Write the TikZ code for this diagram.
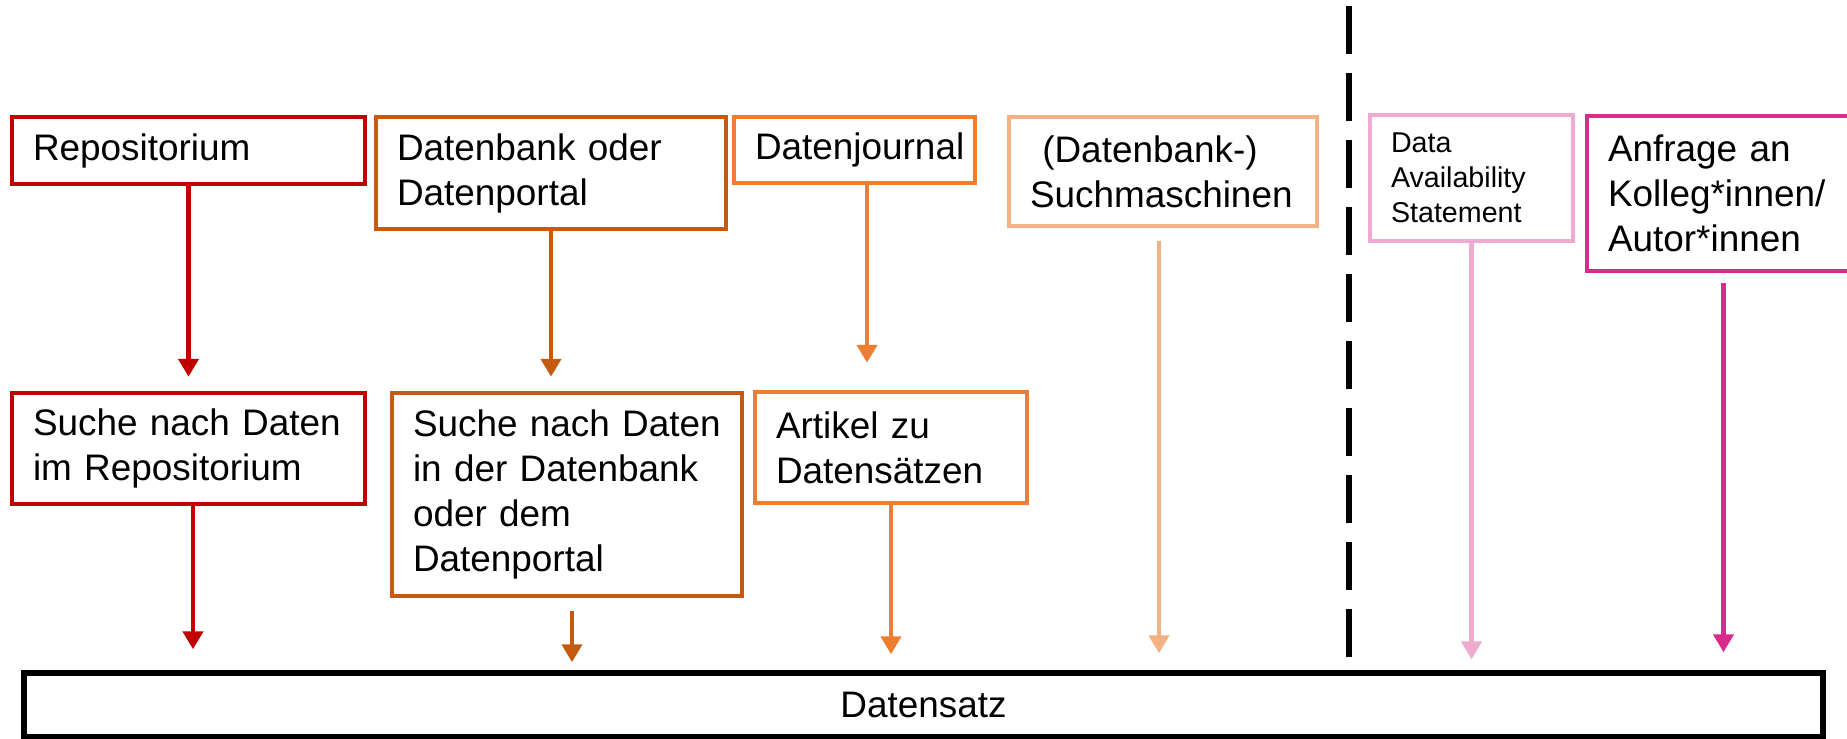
\documentclass[tikz,border=0pt]{standalone}
\usepackage{fontspec}
\setmainfont{Liberation Sans}
\usetikzlibrary{arrows.meta}

\definecolor{cRed}{HTML}{C00000}
\definecolor{cBrown}{HTML}{C55A11}
\definecolor{cOrange}{HTML}{ED7D31}
\definecolor{cPeach}{HTML}{F4B183}
\definecolor{cRose}{HTML}{F0AAD0}
\definecolor{cMagenta}{HTML}{D92B8A}

\newcommand{\bigtxt}{\fontsize{21}{25.6}\selectfont}
\newcommand{\smalltxt}{\fontsize{16.3}{19.9}\selectfont}

\tikzset{
	box/.style={draw=#1, line width=0.09cm, rectangle, align=left, inner xsep=0.42cm, inner ysep=0pt, font=\bigtxt},
	arr/.style={draw=#1, line width=0.09cm, -{Triangle[width=0.4cm,length=0.36cm]}},
}

\begin{document}
\begin{tikzpicture}
		%%%%% START %%%%%
		\useasboundingbox (0, 0) rectangle (36.94, -14.78);
		
		% upper row
		\node[box=cRed, minimum width=7.06cm, minimum height=1.34cm, text width=6.22cm] (repo) at (3.77, -3.01) {Repositorium};
		\node[box=cBrown, minimum width=7.0cm, minimum height=2.24cm, text width=6.16cm] (dbportal) at (11.02, -3.46) {Datenbank oder\\Datenportal};
		\node[box=cOrange, minimum width=4.82cm, minimum height=1.32cm, text width=3.98cm] (djournal) at (17.09, -3.0) {Datenjournal};
		\node[box=cPeach, minimum width=6.16cm, minimum height=2.18cm, text width=5.32cm] (engines) at (23.26, -3.43) {\ (Datenbank-)\\Suchmaschinen};
		\node[box=cRose, minimum width=4.06cm, minimum height=2.52cm, text width=3.22cm, font=\smalltxt] (das) at (29.43, -3.56) {Data\\Availability\\Statement};
		\node[box=cMagenta, minimum width=5.46cm, minimum height=3.1cm, text width=4.62cm] (request) at (34.47, -3.87) {Anfrage an\\Kolleg*innen/\\Autor*innen};
		
		% lower row
		\node[box=cRed, minimum width=7.06cm, minimum height=2.22cm, text width=6.22cm] (search1) at (3.77, -8.97) {Suche nach Daten\\im Repositorium};
		\node[box=cBrown, minimum width=7.0cm, minimum height=4.06cm, text width=6.16cm] (search2) at (11.34, -9.89) {Suche nach Daten\\in der Datenbank\\oder dem\\Datenportal};
		\node[box=cOrange, minimum width=5.44cm, minimum height=2.22cm, text width=4.6cm] (article) at (17.82, -8.95) {Artikel zu\\Datens\"atzen};
		
		\node[draw=black, line width=0.11cm, minimum width=35.98cm, minimum height=1.28cm, font=\bigtxt] (dataset) at (18.47, -14.10) {Datensatz};
		
		% separator
		\draw[line width=0.12cm, dash pattern=on 0.96cm off 0.38cm] (26.98, -13.14) -- (26.98, -0.12);
		
		% arrows
		\coordinate (s1) at ([xshift=0.09cm]search1.south);
		\coordinate (s2) at ([xshift=0.1cm]search2.south);
		\coordinate (dj) at ([xshift=0.25cm]djournal.south);
		\coordinate (en) at ([xshift=-0.08cm]engines.south);
		
		\draw[arr=cRed, shorten >=0.28cm] (repo.south) -- (search1.north);
		\draw[arr=cRed, shorten >=0.42cm] (s1) -- (s1 |- dataset.north);
		\draw[arr=cBrown, shorten >=0.28cm] (dbportal.south) -- (dbportal.south |- search2.north);
		\draw[arr=cBrown, shorten <=0.26cm, shorten >=0.16cm] (s2) -- (s2 |- dataset.north);
		\draw[arr=cOrange, shorten >=0.54cm] (dj) -- (dj |- article.north);
		\draw[arr=cOrange, shorten >=0.32cm] (article.south) -- (article.south |- dataset.north);
		\draw[arr=cPeach, shorten <=0.26cm, shorten >=0.34cm] (en) -- (en |- dataset.north);
		\draw[arr=cRose, shorten >=0.22cm] (das.south) -- (das.south |- dataset.north);
		\draw[arr=cMagenta, shorten <=0.2cm, shorten >=0.36cm] (request.south) -- (request.south |- dataset.north);
		
		%%%%% END %%%%%
	\end{tikzpicture}
\end{document}
